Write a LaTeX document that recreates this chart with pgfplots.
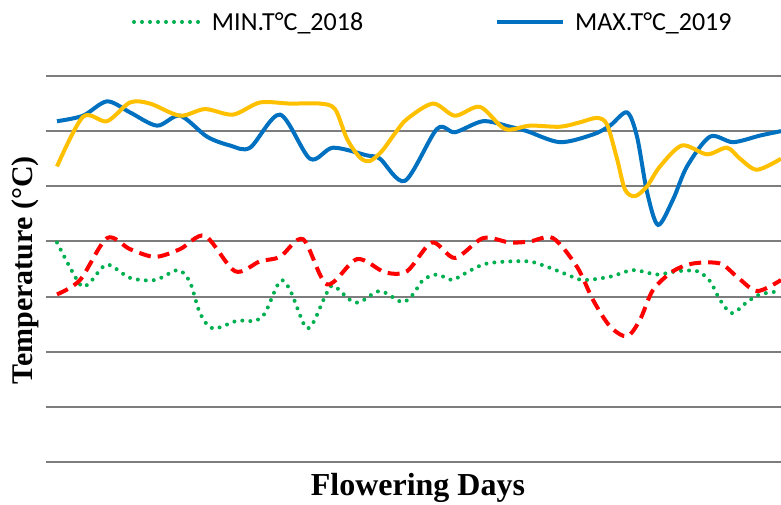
\documentclass[border=0pt]{standalone}
\usepackage{pgfplots}
\pgfplotsset{compat=1.18}
\usepackage{fontspec}
\setmainfont{Liberation Serif}
\setsansfont{Carlito}
\definecolor{cgreen}{RGB}{0,176,80}
\definecolor{cblue}{RGB}{0,112,192}
\definecolor{cyellow}{RGB}{255,192,0}
\definecolor{cred}{RGB}{255,0,0}
\definecolor{cgrid}{RGB}{125,125,125}
\begin{document}
\begin{tikzpicture}
\begin{axis}[
  scale only axis, width=735pt, height=386pt,
  xmin=46, xmax=781, ymin=0, ymax=35,
  ytick={0,5,...,35}, yticklabels={}, xtick=\empty,
  major tick length=0pt,
  ymajorgrids, grid style={cgrid, line width=2pt},
  axis line style={draw=none},
  clip=true,
  xlabel={Flowering Days}, ylabel={Temperature (°C)},
  xlabel style={at={(axis description cs:0.506,-0.0855)}, anchor=base, font=\bfseries\fontsize{32}{36}\selectfont},
  ylabel style={at={(axis description cs:-0.0177,0.497)}, anchor=base, font=\bfseries\fontsize{30}{34}\selectfont},
  legend columns=2,
  legend image code/.code={\draw[#1] (0pt,0pt) -- (66pt,0pt);},
  legend style={at={(axis description cs:0.117,1.140)}, anchor=west, draw=none, fill=none,
    inner sep=0pt, outer sep=0pt, nodes={inner sep=0pt},
    font=\sffamily\fontsize{26}{28}\selectfont,
    /tikz/every odd column/.append style={column sep=10pt},
    /tikz/every even column/.append style={column sep=132pt}},
]
% MIN 2018 (green dotted)
\addplot[cgreen, line width=4pt, line cap=round, dash pattern=on 0pt off 8pt, smooth, tension=0.5] coordinates {
(57,19.9)(80,16.1)(90,16.3)(107,17.9)(130,16.7)(155,16.5)(178,17.4)(190,16.3)(200,13.5)(213,12.1)(237,12.8)(255,12.8)(265,13.5)(280,16.4)(290,15.6)(305,12.3)(313,12.6)(325,15.0)(333,16.0)(350,14.7)(360,14.5)(380,15.5)(402,14.5)(413,15.2)(423,16.5)(437,17.0)(452,16.5)(463,17.0)(487,18.0)(527,18.2)(547,17.7)(567,17.0)(583,16.5)(610,16.8)(633,17.4)(657,17.0)(677,17.3)(697,17.3)(710,16.4)(720,14.7)(732,13.5)(747,14.5)(760,15.2)(781,15.5)};
\addlegendentry{MIN.T°C\_2018}
% MAX 2019 (blue)
\addplot[cblue, line width=4pt, smooth, tension=0.5] coordinates {
(57,30.9)(83,31.4)(107,32.7)(130,31.7)(157,30.5)(180,31.4)(207,29.5)(230,28.7)(250,28.5)(280,31.5)(310,27.5)(333,28.5)(367,27.8)(380,27.5)(405,25.5)(437,30.2)(455,29.9)(483,30.9)(510,30.4)(527,30.0)(560,29.0)(593,29.7)(610,30.5)(627,31.7)(637,29.5)(647,24.5)(658,21.5)(673,23.8)(687,26.8)(710,29.5)(733,29.0)(760,29.6)(781,30.0)};
\addlegendentry{MAX.T°C\_2019}
% MAX 2018 (yellow)
\addplot[cyellow, line width=4pt, smooth, tension=0.5, forget plot] coordinates {
(57,26.8)(83,31.3)(107,30.9)(130,32.6)(150,32.5)(180,31.4)(205,32.0)(233,31.5)(260,32.6)(290,32.5)(320,32.5)(335,32.0)(347,29.3)(360,27.6)(370,27.3)(382,28.2)(395,29.8)(407,31.1)(433,32.5)(455,31.4)(480,32.2)(505,30.2)(530,30.5)(560,30.4)(580,30.8)(597,31.2)(607,30.6)(617,27.5)(625,24.7)(635,24.1)(647,25.0)(660,26.8)(682,28.7)(707,27.9)(727,28.5)(740,27.5)(757,26.5)(781,27.5)};
% MIN 2019 (red dashed)
\addplot[cred, line width=4pt, dash pattern=on 12pt off 7pt, smooth, tension=0.5, forget plot] coordinates {
(57,15.2)(80,16.5)(107,20.3)(130,19.3)(155,18.6)(180,19.3)(205,20.5)(235,17.3)(260,18.2)(280,18.6)(303,20.2)(327,16.1)(357,18.4)(385,17.2)(407,17.3)(432,19.9)(455,18.5)(483,20.3)(510,19.9)(530,20.0)(553,20.3)(577,17.7)(593,14.7)(610,12.3)(627,11.4)(640,12.9)(653,15.6)(673,17.3)(693,18.0)(720,18.0)(737,16.8)(757,15.5)(781,16.5)};
\end{axis}
\pgfresetboundingbox
\path[use as bounding box] (-46pt,-42pt) rectangle (735pt,462pt);
\end{tikzpicture}
\end{document}
